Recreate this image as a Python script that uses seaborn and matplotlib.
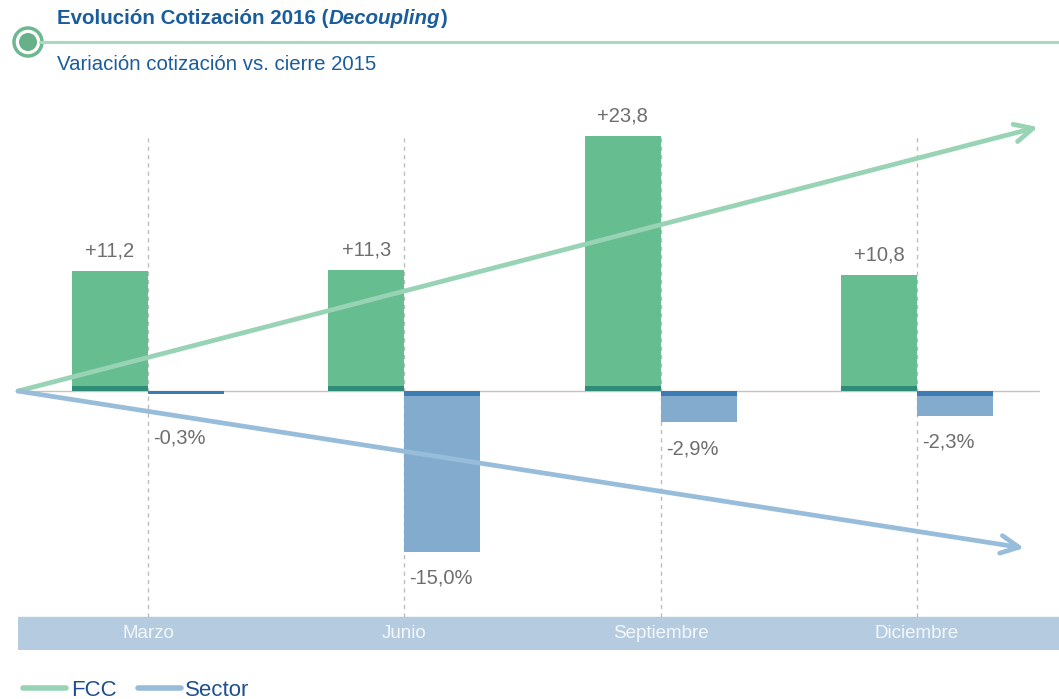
import numpy as np
import pandas as pd
import matplotlib
matplotlib.use('Agg')
import matplotlib.pyplot as plt
from matplotlib.lines import Line2D
from matplotlib.patches import Circle
import seaborn as sns

# datos
meses = ['Marzo', 'Junio', 'Septiembre', 'Diciembre']
fcc = [11.2, 11.3, 23.8, 10.8]
sector = [-0.3, -15.0, -2.9, -2.3]
series = ['FCC', 'Sector']

df = pd.DataFrame({
    'mes': meses * 2,
    'serie': ['FCC'] * len(meses) + ['Sector'] * len(meses),
    'valor': fcc + sector,
})
# thin dark strip that sits on the zero line
df['franja'] = np.sign(df['valor']) * np.minimum(df['valor'].abs(), 0.45)

verde, verde_osc, verde_flecha = '#66bd8f', '#2f8c77', '#97d3b4'
azul, azul_osc, azul_flecha = '#83abcd', '#3b7db3', '#98bdda'
banda = '#b5cce0'
titulo_col = '#1a5c9c'
gris = '#6e6e6e'

sns.set_theme(style='white')
plt.rcParams['font.family'] = ['Liberation Sans', 'DejaVu Sans']

W, H = 1059, 699
fig = plt.figure(figsize=(W / 100, H / 100), dpi=100)

# main axes, placed in pixel terms
x0, x1, ytop, ybot = 18, 1059, 100, 650
ax = fig.add_axes([x0 / W, 1 - ybot / H, (x1 - x0) / W, (ybot - ytop) / H])

ancho = 0.593
sns.barplot(data=df, x='mes', y='valor', hue='serie', order=meses,
            palette=[verde, azul], width=ancho, saturation=1,
            legend=False, edgecolor='none', linewidth=0, ax=ax, zorder=2)
sns.barplot(data=df, x='mes', y='franja', hue='serie', order=meses,
            palette=[verde_osc, azul_osc], width=ancho, saturation=1,
            legend=False, edgecolor='none', linewidth=0, ax=ax, zorder=3)

xmin, xmax = -0.507, 3.554
ymin, ymax = -24.2, 27.2
ax.set_xlim(xmin, xmax)
ax.set_ylim(ymin, ymax)
ax.set_axis_off()

# guide lines
ax.vlines(range(len(meses)), -21.1, 23.7, colors='#bdbdbd',
          linestyles=(0, (3, 3)), lw=1, zorder=0)
ax.plot([xmin, 3.476], [0, 0], color='#cbc3bb', lw=1, zorder=1)

# month band
ax.axhspan(ymin, -21.1, color=banda, zorder=1)
for i, m in enumerate(meses):
    ax.text(i, -22.65, m, ha='center', va='center', color='#f4f7fa', fontsize=13.5)

# value labels
w = ancho / 2
for i, v in enumerate(fcc):
    ax.text(i - w / 2, v + 1.0, f'+{v:.1f}'.replace('.', ','), ha='center',
            va='bottom', color=gris, fontsize=14.5)
for i, v in enumerate(sector):
    ax.text(i + 0.02, min(v - 1.6, -3.5), f'{v:.1f}%'.replace('.', ','),
            ha='left', va='top', color=gris, fontsize=14.5)

# trend arrows
for fin, col in [((3.472, 24.67), verde_flecha), ((3.418, -14.67), azul_flecha)]:
    ax.annotate('', xy=fin, xytext=(xmin, 0), annotation_clip=False,
                arrowprops=dict(arrowstyle='->,head_length=0.65,head_width=0.32',
                                color=col, lw=3.4, shrinkA=0, shrinkB=0,
                                mutation_scale=20, capstyle='round',
                                joinstyle='round'), zorder=5)

# header decoration (pixel coordinates)
deco = fig.add_axes([0, 0, 1, 1], zorder=-1)
deco.set_xlim(0, W)
deco.set_ylim(H, 0)
deco.set_axis_off()
deco.plot([40, W], [42, 42], color='#a9d9c1', lw=2.2)
deco.add_patch(Circle((28, 42), 14, facecolor='white', edgecolor='#6cb88f', lw=2.5))
deco.add_patch(Circle((28, 42), 9, facecolor='#66b08a', edgecolor='none'))

# title: bold with italic word
fig.canvas.draw()
r = fig.canvas.get_renderer()
xp = 57
for txt, st in [('Evolución Cotización 2016 (', 'normal'), ('Decoupling', 'italic'), (')', 'normal')]:
    t = fig.text(xp / W, 1 - 19 / H, txt, fontsize=14.8, fontweight='bold',
                 style=st, color=titulo_col, va='center', ha='left')
    xp += t.get_window_extent(renderer=r).width
fig.text(57 / W, 1 - 64 / H, 'Variación cotización vs. cierre 2015', fontsize=14.7,
         color=titulo_col, va='center', ha='left')

# legend
handles = [Line2D([], [], color=verde_flecha, lw=4),
           Line2D([], [], color=azul_flecha, lw=4, solid_capstyle='round')]
fig.legend(handles, series, loc='lower left', bbox_to_anchor=(23 / W, -2 / H), ncol=2,
           frameon=False, fontsize=16, handlelength=1.95, handletextpad=0.2,
           columnspacing=0.95, borderpad=0, borderaxespad=0, labelcolor='#1f4f8f')

fig.savefig('out.png', dpi=100)
